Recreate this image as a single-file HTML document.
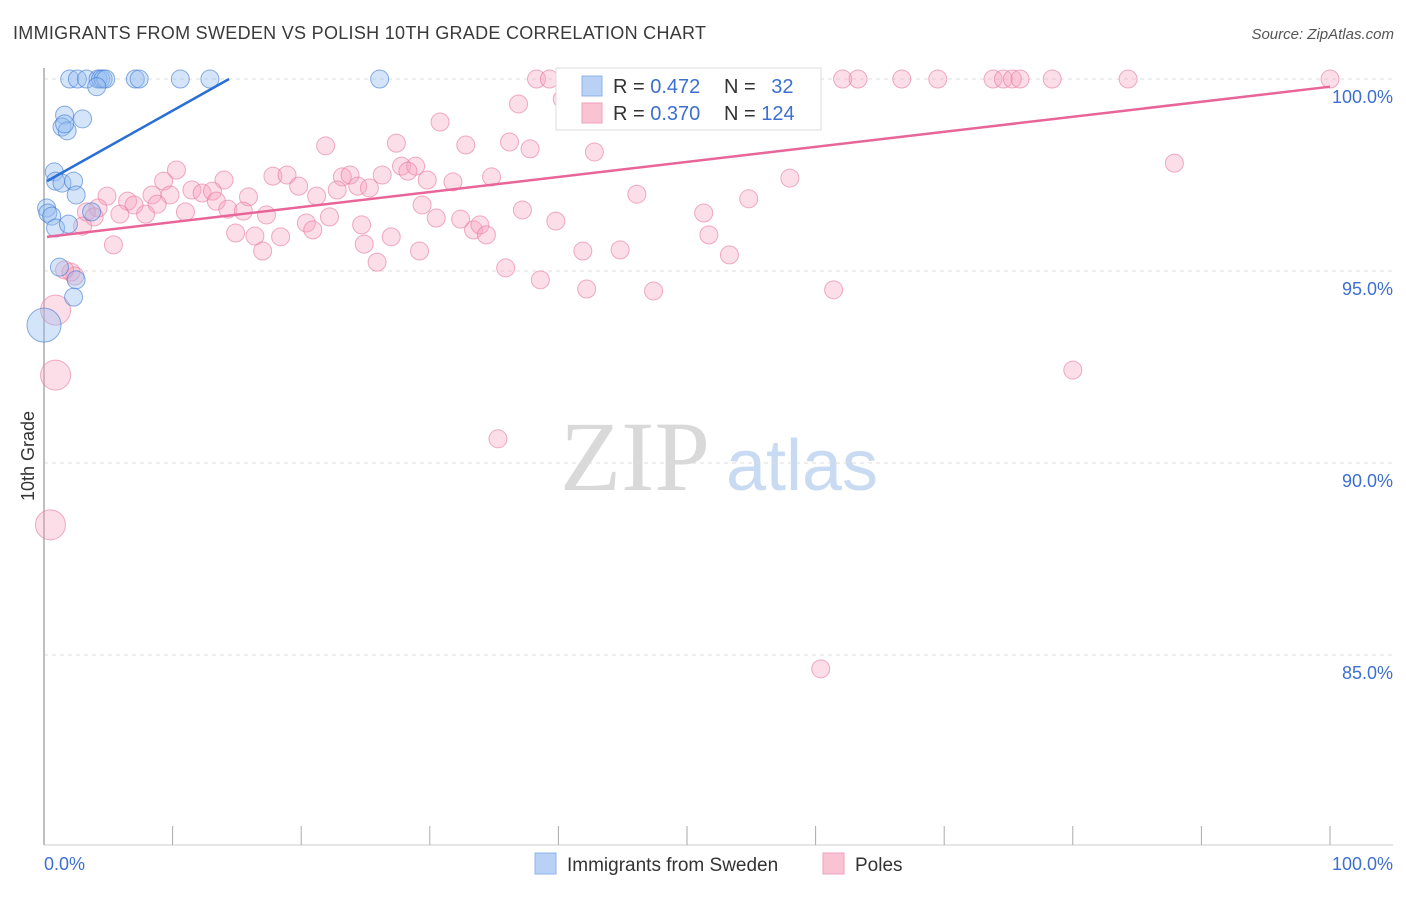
<!DOCTYPE html>
<html><head><meta charset="utf-8"><style>
body{margin:0;background:#fff;font-family:"Liberation Sans",sans-serif;}
svg text{font-family:"Liberation Sans",sans-serif;}
</style></head><body>
<svg id="chart" width="1406" height="892" xmlns="http://www.w3.org/2000/svg">
<text x="13" y="39" font-size="18" fill="#3a3a3a" textLength="693" lengthAdjust="spacing">IMMIGRANTS FROM SWEDEN VS POLISH 10TH GRADE CORRELATION CHART</text>
<text x="1394" y="39" font-size="15" fill="#555" text-anchor="end" font-style="italic">Source: ZipAtlas.com</text>
<g>
<text x="635" y="490" font-size="100" fill="#d9d9d9" style="font-family:'Liberation Serif',serif" text-anchor="middle">ZIP</text>
<text x="802" y="490" font-size="72" fill="#c9dbf2" text-anchor="middle">atlas</text>
</g>
<g id="grid"></g>
<g id="axes"></g>
<g id="pts"></g>
<g id="lines"></g>
<text transform="translate(34,456) rotate(-90)" font-size="18" fill="#333" text-anchor="middle">10th Grade</text>
<g>
<rect x="556" y="68" width="265" height="62" fill="#fff" stroke="#ddd"/>
<rect x="582" y="76" width="20" height="20" fill="#b9d1f5" stroke="#8fb3e8"/>
<rect x="582" y="103" width="20" height="20" fill="#f9c3d3" stroke="#eda0b8"/>
<text x="613" y="93" font-size="20" fill="#333">R = <tspan fill="#3d6fd1">0.472</tspan></text>
<text x="724" y="93" font-size="20" fill="#333">N = <tspan fill="#3d6fd1" dx="10">32</tspan></text>
<text x="613" y="120" font-size="20" fill="#333">R = <tspan fill="#3d6fd1">0.370</tspan></text>
<text x="724" y="120" font-size="20" fill="#333">N = <tspan fill="#3d6fd1">124</tspan></text>
</g>
<g>
<rect x="535" y="853" width="21" height="21" fill="#b9d1f5" stroke="#8fb3e8"/>
<text x="567" y="871" font-size="19" fill="#333">Immigrants from Sweden</text>
<rect x="823" y="853" width="21" height="21" fill="#f9c3d3" stroke="#eda0b8"/>
<text x="855" y="871" font-size="19" fill="#333">Poles</text>
</g>
</svg>
<script>
const yTicks=[100,95,90,85];
const yTickLabels=["100.0%","95.0%","90.0%","85.0%"];
const xTicks=[0,10,20,30,40,50,60,70,80,90,100];
const blueX=[2.0,2.6,3.3,4.2,4.4,4.6,4.8,4.1,7.1,7.4,10.6,12.9,26.1,1.6,1.4,1.8,3.0,1.6,0.8,0.9,1.4,2.3,2.5,0.2,0.3,0.6,0.9,1.9,3.7,1.2,2.5,2.3,0];
const blueY=[100,100,100,100,100,100,100,99.8,100,100,100,100,100,99.06,98.75,98.65,98.96,98.83,97.58,97.34,97.29,97.34,96.98,96.64,96.51,96.43,96.12,96.22,96.54,95.10,94.77,94.32,93.59];
const blueR=[9,9,9,9,9,9,9,9,9,9,9,9,9,9,9,9,9,9,9,9,9,9,9,9,9,9,9,9,9,9,9,9,17];
const pinkX=[38.3,39.3,41.3,42.6,44.0,46.3,47.9,49.5,51.0,54.1,55.7,57.2,62.1,63.3,66.7,69.5,73.8,74.6,75.3,75.9,78.4,84.3,100,
40.3,43.1,36.9,30.8,36.2,37.8,42.8,32.8,27.4,21.9,87.9,10.3,17.8,18.9,23.2,23.8,26.3,27.8,28.9,28.3,29.8,31.8,34.8,9.3,14.0,58.0,19.8,21.2,22.8,24.4,25.3,4.9,6.5,8.4,9.8,11.5,12.3,13.1,15.9,46.1,54.8,29.4,4.2,7.0,8.8,11.0,13.4,14.3,15.5,17.3,22.2,37.2,51.3,3.3,3.9,5.9,7.9,3.0,20.4,20.9,24.7,27.0,30.5,32.4,33.4,33.9,34.4,39.8,51.7,14.9,16.4,18.4,5.4,17.0,24.9,29.2,25.9,41.9,44.8,53.3,35.9,38.6,42.2,47.4,61.4,2.1,2.4,1.6,0.9,0.9,80.0,35.3,0.5,60.4];
const pinkY=[100,100,100,100,100,100,100,100,100,100,100,100,100,100,100,100,100,100,100,100,100,100,100,
99.48,99.11,99.35,98.88,98.36,98.18,98.10,98.28,98.33,98.26,97.81,97.63,97.47,97.5,97.45,97.5,97.5,97.73,97.73,97.6,97.37,97.32,97.45,97.34,97.37,97.42,97.21,96.95,97.11,97.21,97.16,96.95,96.82,96.98,96.98,97.11,97.03,97.08,96.93,97.0,96.88,96.72,96.64,96.72,96.74,96.54,96.82,96.61,96.56,96.46,96.41,96.59,96.51,96.54,96.41,96.48,96.48,96.17,96.25,96.07,96.2,95.89,96.38,96.35,96.07,96.2,95.94,96.3,95.94,95.99,95.91,95.89,95.68,95.52,95.70,95.52,95.23,95.52,95.55,95.42,95.08,94.77,94.53,94.48,94.51,94.97,94.87,95.03,93.98,92.29,92.42,90.63,88.39,84.64];
const pinkBigFromEnd=[6,5,2];
const blueLine=[[0.23,97.34],[14.39,100]];
const pinkLine=[[0.23,95.89],[100,99.8]];
const NS="http://www.w3.org/2000/svg";
const X0=44,X1=1330,YTOP=68,YBOT=845;
function xs(v){return X0+(X1-X0)*v/100;}
function ys(v){return 79+(100-v)*38.4;}
function mk(tag,attrs,parent){const e=document.createElementNS(NS,tag);for(const k in attrs)e.setAttribute(k,attrs[k]);parent.appendChild(e);return e;}
const grid=document.getElementById('grid'),axes=document.getElementById('axes'),pts=document.getElementById('pts'),lines=document.getElementById('lines');
yTicks.forEach((t,i)=>{
 const l=mk('line',{x1:X0,x2:1393,y1:ys(t),y2:ys(t),stroke:'#ddd','stroke-dasharray':'4,4'},grid);
 
 
 const tx=mk('text',{x:1393,y:ys(t)+24,'font-size':18,fill:'#3d6fd1','text-anchor':'end'},axes);
 tx.textContent=yTickLabels[i];
 
 
});
let a=mk('line',{x1:X0,x2:X0,y1:YTOP,y2:YBOT,stroke:'#aaa','stroke-width':1.5},axes);


a=mk('line',{x1:X0,x2:1393,y1:YBOT,y2:YBOT,stroke:'#ccc'},axes);


xTicks.forEach(t=>{
 const l=mk('line',{x1:xs(t),x2:xs(t),y1:826,y2:YBOT,stroke:'#aaa'},axes);
 
 
});
let t0=mk('text',{x:44,y:870,'font-size':18,fill:'#3d6fd1'},axes);t0.textContent='0.0%';


let t1=mk('text',{x:1393,y:870,'font-size':18,fill:'#3d6fd1','text-anchor':'end'},axes);t1.textContent='100.0%';


const n=pinkX.length;
pinkX.forEach((v,i)=>{
 const r=pinkBigFromEnd.includes(n-i)?15:9;
 const c=mk('circle',{cx:xs(v),cy:ys(pinkY[i]),r:r,fill:'rgba(245,160,188,0.35)',stroke:'rgba(230,120,155,0.6)','stroke-width':1},pts);
 
 
});
blueX.forEach((v,i)=>{
 const c=mk('circle',{cx:xs(v),cy:ys(blueY[i]),r:blueR[i],fill:'rgba(150,190,240,0.4)',stroke:'rgba(60,120,210,0.6)','stroke-width':1},pts);
 
 
});
let bl=mk('line',{x1:xs(blueLine[0][0]),y1:ys(blueLine[0][1]),x2:xs(blueLine[1][0]),y2:ys(blueLine[1][1]),stroke:'#2a6fd6','stroke-width':2.5},lines);


let pl=mk('line',{x1:xs(pinkLine[0][0]),y1:ys(pinkLine[0][1]),x2:xs(pinkLine[1][0]),y2:ys(pinkLine[1][1]),stroke:'#e8659a','stroke-width':2.5},lines);


</script>
</body></html>
